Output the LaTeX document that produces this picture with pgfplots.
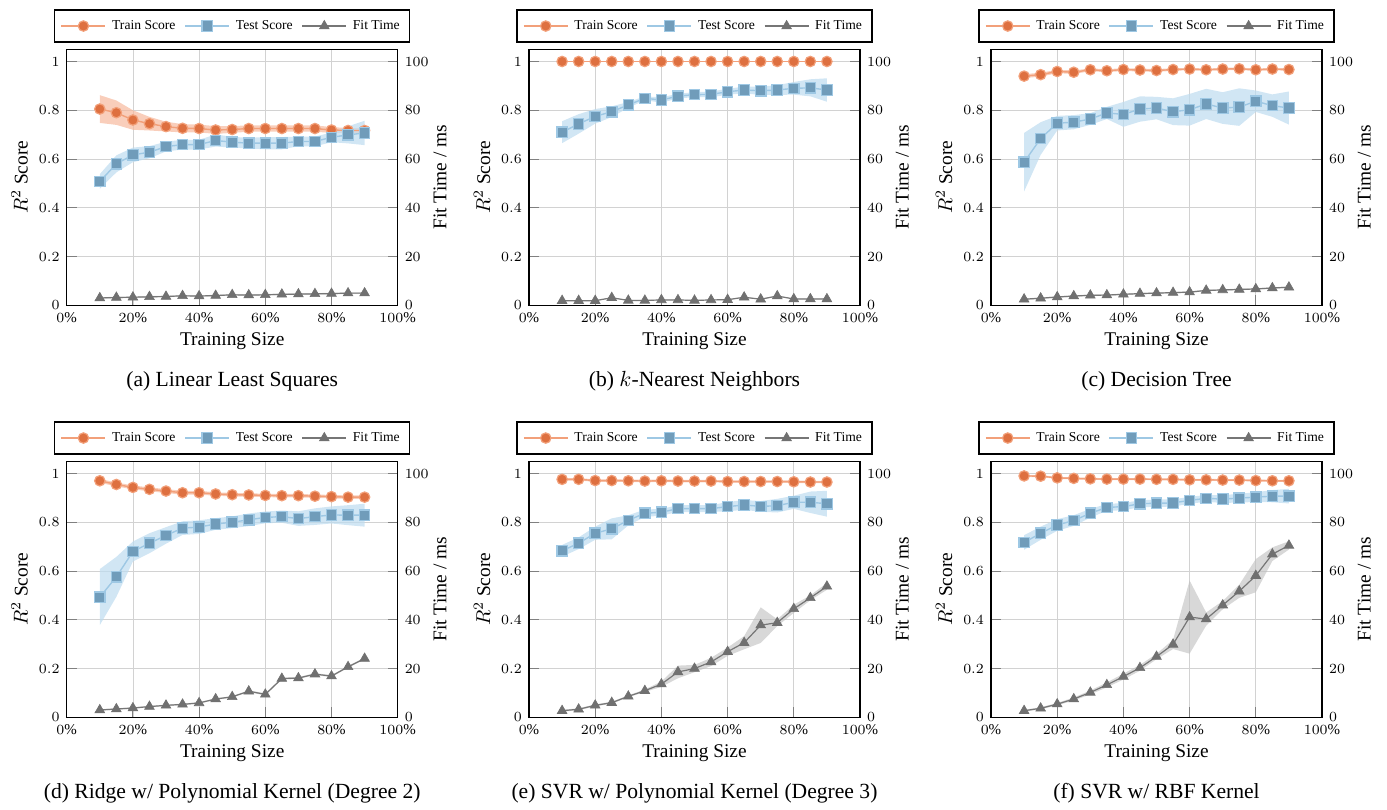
\documentclass[border=0pt]{standalone}
\usepackage{pgfplots}
\pgfplotsset{compat=1.18}
\usepackage{pgfplotstable}
\usepgfplotslibrary{fillbetween}
\usepackage{fontspec}
\setmainfont{Liberation Serif}

\definecolor{trfill}{RGB}{222,112,64}
\definecolor{trline}{RGB}{242,160,122}
\definecolor{trband}{RGB}{247,185,158}
\definecolor{tefill}{RGB}{112,156,186}
\definecolor{teline}{RGB}{158,200,228}
\definecolor{teband}{RGB}{190,220,240}
\definecolor{ftfill}{RGB}{112,112,112}
\definecolor{ftline}{RGB}{118,118,118}
\definecolor{ftband}{RGB}{190,190,190}

% columns: x = training size (%), mean and std of train score, test score, fit time (ms)
\pgfplotstableread{
x tr trs te tes ft fts
10 0.805 0.057 0.508 0.030 3.0 0.3
15 0.790 0.050 0.580 0.035 3.2 0.3
20 0.760 0.040 0.617 0.030 3.3 0.3
25 0.745 0.028 0.628 0.025 3.5 0.3
30 0.733 0.020 0.651 0.020 3.6 0.3
35 0.726 0.017 0.659 0.020 3.9 0.3
40 0.725 0.016 0.659 0.020 3.8 0.3
45 0.719 0.016 0.676 0.025 4.0 0.3
50 0.721 0.014 0.669 0.022 4.3 0.3
55 0.725 0.013 0.665 0.022 4.2 0.3
60 0.725 0.013 0.665 0.025 4.3 0.3
65 0.725 0.013 0.665 0.025 4.5 0.3
70 0.725 0.013 0.672 0.020 4.6 0.3
75 0.725 0.013 0.672 0.020 4.7 0.3
80 0.719 0.012 0.689 0.020 4.8 0.3
85 0.717 0.010 0.699 0.035 5.0 0.3
90 0.717 0.010 0.707 0.050 5.0 0.3
}\tA

\pgfplotstableread{
x tr trs te tes ft fts
10 1 0 0.710 0.045 1.9 0.2
15 1 0 0.744 0.040 1.9 0.2
20 1 0 0.775 0.030 1.9 0.2
25 1 0 0.794 0.022 3.1 0.2
30 1 0 0.822 0.012 2.0 0.2
35 1 0 0.849 0.008 2.0 0.2
40 1 0 0.842 0.011 2.2 0.2
45 1 0 0.858 0.010 2.2 0.2
50 1 0 0.864 0.010 2.0 0.2
55 1 0 0.865 0.012 2.2 0.2
60 1 0 0.876 0.012 2.3 0.2
65 1 0 0.883 0.014 3.3 0.2
70 1 0 0.880 0.017 2.5 0.2
75 1 0 0.883 0.020 3.8 0.2
80 1 0 0.890 0.026 2.6 0.2
85 1 0 0.892 0.035 2.6 0.2
90 1 0 0.883 0.048 2.6 0.2
}\tB

\pgfplotstableread{
x tr trs te tes ft fts
10 0.940 0.008 0.587 0.120 2.5 0.3
15 0.946 0.008 0.684 0.067 2.9 0.3
20 0.959 0.007 0.747 0.030 3.4 0.3
25 0.956 0.007 0.751 0.029 3.8 0.3
30 0.966 0.006 0.764 0.024 4.1 0.3
35 0.962 0.006 0.789 0.025 4.2 0.3
40 0.967 0.006 0.783 0.051 4.5 0.3
45 0.965 0.006 0.805 0.052 4.8 0.3
50 0.963 0.006 0.809 0.046 5.0 0.3
55 0.967 0.005 0.794 0.055 5.2 0.3
60 0.969 0.005 0.802 0.065 5.4 0.3
65 0.966 0.005 0.826 0.062 6.1 0.3
70 0.969 0.005 0.809 0.065 6.3 0.3
75 0.970 0.005 0.813 0.077 6.5 0.3
80 0.966 0.005 0.837 0.044 6.7 0.3
85 0.969 0.005 0.819 0.046 7.1 0.3
90 0.967 0.005 0.809 0.068 7.4 0.3
}\tC

\pgfplotstableread{
x tr trs te tes ft fts
10 0.970 0.008 0.493 0.115 3.0 0.3
15 0.955 0.008 0.576 0.082 3.4 0.3
20 0.943 0.008 0.680 0.041 3.8 0.3
25 0.935 0.008 0.714 0.041 4.4 0.3
30 0.928 0.008 0.746 0.034 4.9 0.3
35 0.921 0.008 0.776 0.028 5.3 0.3
40 0.921 0.008 0.780 0.028 5.9 0.3
45 0.916 0.007 0.793 0.024 7.5 0.3
50 0.913 0.007 0.800 0.024 8.4 0.3
55 0.912 0.007 0.810 0.026 10.7 0.4
60 0.910 0.007 0.820 0.024 9.4 0.4
65 0.909 0.007 0.823 0.025 15.9 0.4
70 0.909 0.007 0.815 0.030 16.1 0.4
75 0.907 0.007 0.823 0.034 17.7 0.4
80 0.905 0.007 0.830 0.035 16.9 0.4
85 0.903 0.007 0.829 0.041 20.7 0.4
90 0.903 0.007 0.829 0.047 24.1 0.4
}\tD

\pgfplotstableread{
x tr trs te tes ft fts
10 0.976 0.005 0.683 0.024 2.7 0.4
15 0.976 0.005 0.714 0.024 3.3 0.4
20 0.971 0.005 0.755 0.027 4.9 0.4
25 0.971 0.005 0.773 0.043 6.0 0.4
30 0.970 0.005 0.808 0.021 8.6 0.4
35 0.969 0.005 0.837 0.015 10.9 0.5
40 0.970 0.005 0.841 0.014 13.6 1.1
45 0.969 0.005 0.856 0.014 18.6 2.6
50 0.969 0.005 0.856 0.014 20.0 1.5
55 0.969 0.005 0.856 0.014 22.7 1.7
60 0.967 0.005 0.864 0.019 26.9 1.7
65 0.967 0.005 0.871 0.020 30.6 2.7
70 0.967 0.005 0.865 0.022 37.8 7.3
75 0.967 0.005 0.868 0.028 38.8 1.4
80 0.966 0.005 0.882 0.027 44.5 1.7
85 0.965 0.005 0.882 0.044 49.0 1.0
90 0.965 0.005 0.876 0.053 53.7 1.4
}\tE

\pgfplotstableread{
x tr trs te tes ft fts
10 0.990 0.004 0.717 0.030 2.7 0.4
15 0.989 0.004 0.755 0.027 3.7 0.4
20 0.982 0.004 0.789 0.024 5.4 0.5
25 0.980 0.004 0.807 0.022 7.5 0.6
30 0.978 0.004 0.837 0.018 10.2 0.8
35 0.977 0.004 0.861 0.014 13.3 1.0
40 0.977 0.004 0.864 0.015 16.7 1.2
45 0.977 0.004 0.876 0.014 20.3 1.2
50 0.976 0.004 0.878 0.015 24.9 1.1
55 0.976 0.004 0.879 0.015 29.9 1.9
60 0.974 0.004 0.890 0.014 41.1 15.0
65 0.974 0.004 0.898 0.014 40.3 2.7
70 0.973 0.004 0.895 0.016 46.0 1.7
75 0.973 0.004 0.899 0.018 51.7 2.7
80 0.971 0.004 0.903 0.020 58.1 6.8
85 0.970 0.004 0.907 0.025 66.9 2.8
90 0.970 0.004 0.907 0.030 70.5 1.7
}\tF

\pgfplotsset{
  panel/.style={width=165.5pt, height=128pt, scale only axis, anchor=south west,
    xmin=0, xmax=100, ymin=0, ymax=1.05,
    tick label style={font=\fontsize{7.5}{8.5}\selectfont},
    label style={font=\fontsize{9.7}{11}\selectfont},
    major tick length=5pt, tick style={gray, line width=0.5pt},
    axis line style={line width=0.6pt}},
  leftax/.style={panel,
    xtick={0,20,40,60,80,100}, ytick={0,0.2,0.4,0.6,0.8,1},
    xticklabel={$\pgfmathprintnumber{\tick}\%$},
    xtick pos=bottom, ytick pos=left,
    grid=major, grid style={gray!35, line width=0.4pt},
    xlabel={Training Size}, ylabel={$R^2$ Score},
    xlabel style={at={(axis description cs:0.5,-0.14)}, anchor=center},
    ylabel style={at={(axis description cs:-0.142,0.5)}, anchor=center},
    every axis title shift=0pt,
    title style={at={(0.5,-0.297)}, anchor=center, font=\fontsize{10.8}{13}\selectfont}},
  rightax/.style={panel, ymax=105,
    axis x line=none, axis y line*=right, y axis line style={-},
    ytick={0,20,40,60,80,100}, ytick pos=right, yticklabel pos=right,
    ylabel={Fit Time / ms},
    ylabel style={at={(axis description cs:1.128,0.5)}, anchor=center},
    legend columns=3, legend cell align=left,
    legend style={at={(0.5,1.026)}, anchor=south, draw=black, line width=0.6pt,
      font=\fontsize{6.8}{8}\selectfont, inner xsep=3pt, inner ysep=3pt,
      /tikz/every odd column/.append style={column sep=1pt},
      /tikz/every even column/.append style={column sep=2.5pt}},
    legend image code/.code={\draw[mark repeat=2, mark phase=2, #1]
      plot coordinates {(0pt,0pt) (11pt,0pt) (22pt,0pt)};}},
  trstyle/.style={color=trline, line width=0.7pt, mark=*, mark size=2.6pt,
    mark options={fill=trfill, draw=trline, line width=0.6pt}},
  testyle/.style={color=teline, line width=0.7pt, mark=square*, mark size=2.6pt,
    mark options={fill=tefill, draw=teline, line width=0.6pt}},
  ftstyle/.style={color=ftline, line width=0.6pt, mark=triangle*, mark size=2.8pt,
    mark options={fill=ftfill, draw=ftfill, line width=0.3pt}},
}

% #1,#2 lower left corner of the axis box, #3 table, #4 caption
\newcommand{\panel}[4]{%
\begin{axis}[leftax, at={(#1,#2)}, title={#4}]
  \addplot[name path=trU, draw=none, forget plot] table[x=x, y expr=\thisrow{tr}+\thisrow{trs}] {#3};
  \addplot[name path=trL, draw=none, forget plot] table[x=x, y expr=\thisrow{tr}-\thisrow{trs}] {#3};
  \addplot[fill=trband, fill opacity=0.7, draw=none, forget plot] fill between[of=trU and trL];
  \addplot[name path=teU, draw=none, forget plot] table[x=x, y expr=\thisrow{te}+\thisrow{tes}] {#3};
  \addplot[name path=teL, draw=none, forget plot] table[x=x, y expr=\thisrow{te}-\thisrow{tes}] {#3};
  \addplot[fill=teband, fill opacity=0.7, draw=none, forget plot] fill between[of=teU and teL];
  \addplot[trstyle] table[x=x, y=tr] {#3};
  \addplot[testyle] table[x=x, y=te] {#3};
\end{axis}
\begin{axis}[rightax, at={(#1,#2)}]
  \addlegendimage{trstyle}\addlegendentry{Train Score}
  \addlegendimage{testyle}\addlegendentry{Test Score}
  \addplot[name path=ftU, draw=none, forget plot] table[x=x, y expr=\thisrow{ft}+\thisrow{fts}] {#3};
  \addplot[name path=ftL, draw=none, forget plot] table[x=x, y expr=\thisrow{ft}-\thisrow{fts}] {#3};
  \addplot[fill=ftband, fill opacity=0.6, draw=none, forget plot] fill between[of=ftU and ftL];
  \addplot[ftstyle] table[x=x, y=ft] {#3};
  \addlegendentry{Fit Time}
\end{axis}
}

\begin{document}
\begin{tikzpicture}
\path (0,0) rectangle (693.5pt,403.5pt);
\panel{33.35pt}{250.85pt}{\tA}{(a) Linear Least Squares}
\panel{264.5pt}{250.85pt}{\tB}{(b) $k$-Nearest Neighbors}
\panel{495.5pt}{250.85pt}{\tC}{(c) Decision Tree}
\panel{33.35pt}{44.85pt}{\tD}{(d) Ridge w/ Polynomial Kernel (Degree 2)}
\panel{264.5pt}{44.85pt}{\tE}{(e) SVR w/ Polynomial Kernel (Degree 3)}
\panel{495.5pt}{44.85pt}{\tF}{(f) SVR w/ RBF Kernel}
\end{tikzpicture}
\end{document}
